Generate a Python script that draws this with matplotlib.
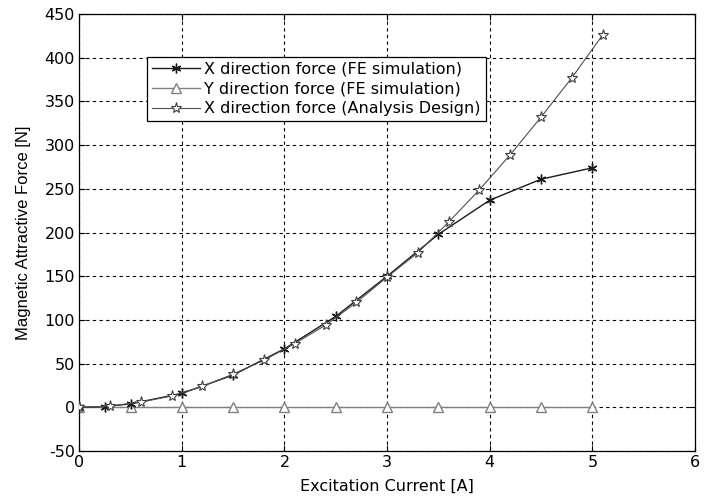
import matplotlib
matplotlib.use("Agg")
import matplotlib.pyplot as plt

plt.rcParams['font.family'] = ['DejaVu Sans']
plt.rcParams['axes.unicode_minus'] = False

# FE simulation, X direction
fe_x_current = [0, 0.25, 0.5, 1.0, 1.5, 2.0, 2.5, 3.0, 3.5, 4.0, 4.5, 5.0]
fe_x_force = [0, 1, 4, 16, 37, 67, 104, 150, 198, 237, 261, 274]

# FE simulation, Y direction
fe_y_current = [0, 0.5, 1.0, 1.5, 2.0, 2.5, 3.0, 3.5, 4.0, 4.5, 5.0]
fe_y_force = [0, 0, 0, 0, 0, 0, 0, 0, 0, 0, 0]

# Analysis design, X direction
an_current = [0, 0.3, 0.6, 0.9, 1.2, 1.5, 1.8, 2.1, 2.4, 2.7, 3.0, 3.3, 3.6, 3.9, 4.2, 4.5, 4.8, 5.1]
an_force = [0, 1.5, 6, 13, 24, 38, 54, 73, 94, 120, 149, 177, 212, 249, 289, 332, 377, 426]

fig = plt.figure(figsize=(7.07, 4.99), dpi=100)
ax = fig.add_axes([0.112, 0.096, 0.871, 0.876])

ax.plot(fe_x_current, fe_x_force, color='#1a1a1a', lw=1.0, marker=(6, 2, 0),
        ms=7, mew=1.0, label='X direction force (FE simulation)', zorder=3)
ax.plot(fe_y_current, fe_y_force, color='#808080', lw=1.0, marker='^',
        ms=7, mfc='white', mec='#808080', mew=1.0,
        label='Y direction force (FE simulation)', zorder=2)
ax.plot(an_current, an_force, color='#505050', lw=0.8, marker='*',
        ms=8, mfc='white', mec='#404040', mew=0.8,
        label='X direction force (Analysis Design)', zorder=3)

ax.set_xlim(0, 6)
ax.set_ylim(-50, 450)
ax.set_xticks(range(0, 7))
ax.set_yticks(range(-50, 451, 50))
ax.grid(True, linestyle=(0, (3, 3)), color='black', lw=0.8)
ax.tick_params(direction='in', top=True, right=True, labelsize=11.5, length=4,
               pad=3)
for s in ax.spines.values():
    s.set_linewidth(0.9)

ax.set_xlabel('Excitation Current [A]', fontsize=11.5, labelpad=6)
ax.set_ylabel('Magnetic Attractive Force [N]', fontsize=12,
              family='Liberation Sans', labelpad=10)

leg = ax.legend(loc='upper left', bbox_to_anchor=(0.110, 0.902), fontsize=11.5,
                fancybox=False, framealpha=1, edgecolor='black',
                handlelength=3.0, borderpad=0.3, labelspacing=0.3,
                handletextpad=0.3, borderaxespad=0)
leg.get_frame().set_linewidth(0.9)

fig.savefig('out.png', dpi=100)
